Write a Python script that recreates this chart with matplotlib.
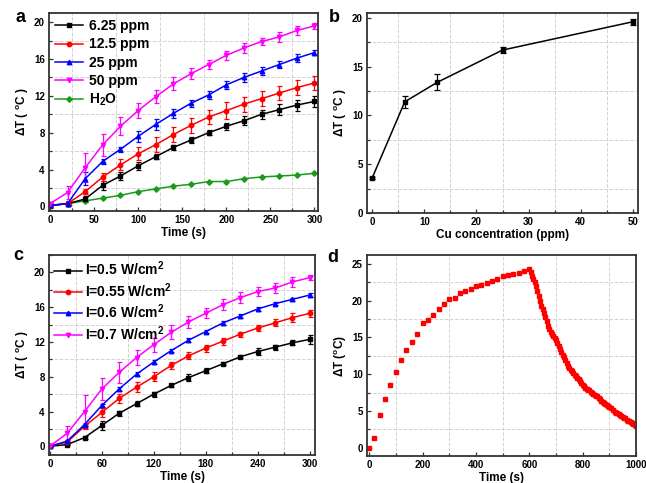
import numpy as np
import matplotlib
matplotlib.use("Agg")
import matplotlib.pyplot as plt
from matplotlib.ticker import MultipleLocator
from matplotlib.lines import Line2D

plt.rcParams['font.family'] = ['Liberation Sans', 'DejaVu Sans']
plt.rcParams['font.weight'] = 'bold'
plt.rcParams['mathtext.fontset'] = 'custom'
plt.rcParams['mathtext.bf'] = 'Liberation Sans:bold'
plt.rcParams['mathtext.rm'] = 'Liberation Sans:bold'
plt.rcParams['mathtext.default'] = 'bf'

# ---- panel a: concentration series ----
time_a = [0, 20, 40, 60, 80, 100, 120, 140, 160, 180, 200, 220, 240, 260, 280, 300]
a_625 = [0.1, 0.3, 0.8, 2.3, 3.3, 4.4, 5.4, 6.4, 7.2, 8.0, 8.7, 9.3, 10.0, 10.5, 11.0, 11.4]
a_625_err = [0.3, 0.2, 0.3, 0.5, 0.4, 0.4, 0.3, 0.3, 0.3, 0.3, 0.4, 0.5, 0.5, 0.6, 0.6, 0.6]
a_125 = [0.1, 0.3, 1.6, 3.2, 4.5, 5.7, 6.7, 7.8, 8.8, 9.7, 10.4, 11.1, 11.7, 12.3, 12.9, 13.4]
a_125_err = [0.2, 0.2, 0.3, 0.4, 0.6, 0.7, 0.8, 0.8, 0.8, 0.8, 0.9, 0.8, 0.8, 0.8, 0.8, 0.8]
a_25 = [0.1, 0.3, 3.0, 4.9, 6.2, 7.6, 8.9, 10.1, 11.2, 12.1, 13.2, 14.0, 14.7, 15.4, 16.1, 16.7]
a_25_err = [0.2, 0.3, 0.7, 0.3, 0.3, 0.6, 0.6, 0.5, 0.4, 0.4, 0.4, 0.5, 0.4, 0.4, 0.4, 0.3]
a_50 = [0.3, 1.5, 4.2, 6.7, 8.7, 10.4, 11.9, 13.3, 14.4, 15.4, 16.4, 17.2, 17.9, 18.4, 19.1, 19.6]
a_50_err = [0.2, 0.7, 1.6, 1.2, 1.0, 0.8, 0.7, 0.7, 0.6, 0.5, 0.5, 0.5, 0.4, 0.5, 0.5, 0.3]
a_h2o = [0.1, 0.3, 0.6, 0.9, 1.2, 1.6, 1.9, 2.2, 2.4, 2.7, 2.7, 3.0, 3.2, 3.3, 3.4, 3.6]

# ---- panel b: dT vs concentration ----
conc = [0, 6.25, 12.5, 25, 50]
conc_dt = [3.6, 11.4, 13.4, 16.7, 19.6]
conc_err = [0.1, 0.6, 0.8, 0.3, 0.3]

# ---- panel c: power density series ----
time_c = [0, 20, 40, 60, 80, 100, 120, 140, 160, 180, 200, 220, 240, 260, 280, 300]
c_05 = [0.0, 0.2, 1.0, 2.4, 3.8, 4.9, 6.0, 7.0, 7.9, 8.7, 9.5, 10.3, 10.9, 11.4, 11.9, 12.3]
c_05_err = [0.1, 0.1, 0.2, 0.5, 0.3, 0.3, 0.3, 0.2, 0.4, 0.3, 0.2, 0.2, 0.4, 0.3, 0.3, 0.5]
c_055 = [0.0, 0.5, 2.3, 3.9, 5.5, 6.8, 8.0, 9.3, 10.4, 11.3, 12.1, 12.9, 13.6, 14.2, 14.8, 15.3]
c_055_err = [0.1, 0.1, 0.3, 0.5, 0.5, 0.6, 0.5, 0.4, 0.4, 0.4, 0.4, 0.3, 0.3, 0.4, 0.5, 0.4]
c_06 = [0.0, 0.6, 2.5, 4.7, 6.6, 8.3, 9.7, 11.0, 12.2, 13.2, 14.2, 15.0, 15.8, 16.4, 16.9, 17.4]
c_06_err = [0.1, 0.1, 0.2, 0.2, 0.2, 0.2, 0.2, 0.2, 0.2, 0.2, 0.2, 0.2, 0.2, 0.2, 0.2, 0.2]
c_07 = [0.0, 1.5, 4.0, 6.6, 8.5, 10.2, 11.7, 13.1, 14.3, 15.3, 16.3, 17.1, 17.8, 18.2, 18.9, 19.4]
c_07_err = [0.1, 0.8, 1.9, 1.3, 1.2, 0.9, 0.8, 0.8, 0.7, 0.6, 0.6, 0.6, 0.5, 0.6, 0.6, 0.3]

# ---- panel d: heating / cooling ----
heat_t = list(range(0, 601, 20))
heat_dt = [0.0, 1.4, 4.5, 6.6, 8.6, 10.3, 11.9, 13.3, 14.4, 15.5, 17.0, 17.4, 18.1, 18.9, 19.6,
           20.2, 20.4, 21.0, 21.3, 21.6, 22.0, 22.1, 22.4, 22.7, 23.0, 23.4, 23.5, 23.6, 23.8,
           24.0, 24.3]
cool_t = [t for t in range(605, 1001, 5) if t != 910]
cool_dt = [23.9, 23.3, 23.0, 22.6, 22.0, 21.3, 20.6, 19.9, 19.3, 18.8, 18.3, 17.8, 17.2, 16.6,
           16.2, 15.8, 15.5, 15.2, 14.9, 14.6, 14.2, 13.8, 13.4, 13.0, 12.6, 12.3, 11.9, 11.5,
           11.1, 10.8, 10.6, 10.4, 10.2, 9.9, 9.7, 9.5, 9.3, 9.1, 8.8, 8.6, 8.4, 8.2, 8.0, 7.9,
           7.8, 7.6, 7.5, 7.3, 7.2, 7.1, 7.0, 6.8, 6.6, 6.4, 6.3, 6.1, 5.9, 5.8, 5.7, 5.6, 5.4,
           5.1, 4.9, 4.8, 4.7, 4.6, 4.5, 4.4, 4.2, 4.1, 4.0, 3.8, 3.7, 3.6, 3.5, 3.4, 3.2, 3.1,
           3.0]

fig = plt.figure(figsize=(6.46, 4.83), dpi=100)
W, H = 646.0, 483.0


def make_ax(l, r, t, b):
    return fig.add_axes([l / W, 1 - b / H, (r - l) / W, (b - t) / H])


def style(ax):
    for s in ax.spines.values():
        s.set_linewidth(1.3)
        s.set_color('#333333')
    ax.tick_params(which='both', direction='in', top=False, right=False,
                   labelsize=7, width=0.9, color='#333333', pad=3)
    ax.tick_params(which='major', length=3)
    ax.tick_params(which='minor', length=2)
    ax.grid(which='minor', ls='--', color='#d2d2d2', lw=0.7)
    ax.set_axisbelow(True)
    for lab in ax.get_xticklabels() + ax.get_yticklabels():
        lab.set_fontweight('bold')


def handle(color, marker, ms=3.2):
    return Line2D([], [], color=color, marker=marker, lw=1.1, ms=ms)


ebkw = dict(capsize=1.8, elinewidth=0.9, capthick=0.9, lw=1.1, ms=3.2)
lab_kw = dict(fontsize=8.5, fontweight='bold')

# panel a
ax = make_ax(49, 318, 13, 211)
ax.errorbar(time_a, a_625, yerr=a_625_err, color='black', marker='s', **ebkw)
ax.errorbar(time_a, a_125, yerr=a_125_err, color='#ff0000', marker='o', **ebkw)
ax.errorbar(time_a, a_25, yerr=a_25_err, color='#0000ff', marker='^', **ebkw)
ax.errorbar(time_a, a_50, yerr=a_50_err, color='#ff00ff', marker='v', **ebkw)
ax.plot(time_a, a_h2o, color='#1a9a1a', marker='D', lw=1.1, ms=2.8)
ax.set_xlim(-1, 304)
ax.set_ylim(-0.5, 21)
ax.xaxis.set_major_locator(MultipleLocator(50))
ax.xaxis.set_minor_locator(MultipleLocator(25))
ax.yaxis.set_major_locator(MultipleLocator(4))
ax.yaxis.set_minor_locator(MultipleLocator(2))
ax.set_xlabel('Time (s)', labelpad=1, **lab_kw)
ax.set_ylabel('ΔT ( $^\\mathbf{o}$C )', labelpad=2, **lab_kw)
style(ax)
ax.legend([handle('black', 's'), handle('#ff0000', 'o'), handle('#0000ff', '^'),
           handle('#ff00ff', 'v'), handle('#1a9a1a', 'D', 2.8)],
          ['6.25 ppm', '12.5 ppm', '25 ppm', '50 ppm', 'H$_\\mathbf{2}$O'],
          loc='upper left', frameon=False, prop={'size': 10, 'weight': 'bold'},
          handlelength=2.0, labelspacing=0.3, handletextpad=0.4, borderaxespad=0.25,
          borderpad=0.2)
fig.text(20 / W, 1 - 18 / H, 'a', fontsize=13, fontweight='bold', ha='center', va='center')

# panel b
ax = make_ax(367, 638, 13, 213)
ax.errorbar(conc, conc_dt, yerr=conc_err, color='black', marker='s', capsize=2.2,
            elinewidth=0.9, capthick=0.9, lw=1.1, ms=3.2)
ax.set_xlim(-1, 51)
ax.set_ylim(0, 20.5)
ax.xaxis.set_major_locator(MultipleLocator(10))
ax.xaxis.set_minor_locator(MultipleLocator(5))
ax.yaxis.set_major_locator(MultipleLocator(5))
ax.yaxis.set_minor_locator(MultipleLocator(2.5))
ax.set_xlabel('Cu concentration (ppm)', labelpad=1, **lab_kw)
ax.set_ylabel('ΔT ( $^\\mathbf{o}$C )', labelpad=2, **lab_kw)
style(ax)
fig.text(334 / W, 1 - 18 / H, 'b', fontsize=13, fontweight='bold', ha='center', va='center')

# panel c
ax = make_ax(49, 315, 255, 455)
ax.errorbar(time_c, c_05, yerr=c_05_err, color='black', marker='s', **ebkw)
ax.errorbar(time_c, c_055, yerr=c_055_err, color='#ff0000', marker='o', **ebkw)
ax.errorbar(time_c, c_06, yerr=c_06_err, color='#0000ff', marker='^', **ebkw)
ax.errorbar(time_c, c_07, yerr=c_07_err, color='#ff00ff', marker='v', **ebkw)
ax.set_xlim(-1, 306)
ax.set_ylim(-1, 22)
ax.xaxis.set_major_locator(MultipleLocator(60))
ax.xaxis.set_minor_locator(MultipleLocator(30))
ax.yaxis.set_major_locator(MultipleLocator(4))
ax.yaxis.set_minor_locator(MultipleLocator(2))
ax.set_xlabel('Time (s)', labelpad=1, **lab_kw)
ax.set_ylabel('ΔT ( $^\\mathbf{o}$C )', labelpad=2, **lab_kw)
style(ax)
ax.legend([handle('black', 's'), handle('#ff0000', 'o'), handle('#0000ff', '^'),
           handle('#ff00ff', 'v')],
          ['I=0.5 W/cm$^\\mathbf{2}$', 'I=0.55 W/cm$^\\mathbf{2}$',
           'I=0.6 W/cm$^\\mathbf{2}$', 'I=0.7 W/cm$^\\mathbf{2}$'],
          loc='upper left', frameon=False, prop={'size': 10, 'weight': 'bold'},
          handlelength=2.0, labelspacing=0.2, handletextpad=0.25, borderaxespad=0.25,
          borderpad=0.1)
fig.text(18 / W, 1 - 256 / H, 'c', fontsize=13, fontweight='bold', ha='center', va='center')

# panel d
ax = make_ax(367, 636, 255, 456)
ax.plot(heat_t, heat_dt, ls='none', marker='s', ms=2.9, color='#ff0000')
ax.plot(cool_t, cool_dt, ls='none', marker='s', ms=2.9, color='#ff0000')
ax.set_xlim(-8, 1000)
ax.set_ylim(-1.1, 26.2)
ax.xaxis.set_major_locator(MultipleLocator(200))
ax.xaxis.set_minor_locator(MultipleLocator(100))
ax.yaxis.set_major_locator(MultipleLocator(5))
ax.yaxis.set_minor_locator(MultipleLocator(2.5))
ax.set_xlabel('Time (s)', labelpad=1, **lab_kw)
ax.set_ylabel('ΔT ($^\\mathbf{o}$C)', labelpad=2, **lab_kw)
style(ax)
fig.text(333 / W, 1 - 258 / H, 'd', fontsize=13, fontweight='bold', ha='center', va='center')

fig.savefig('out.png', dpi=100)
